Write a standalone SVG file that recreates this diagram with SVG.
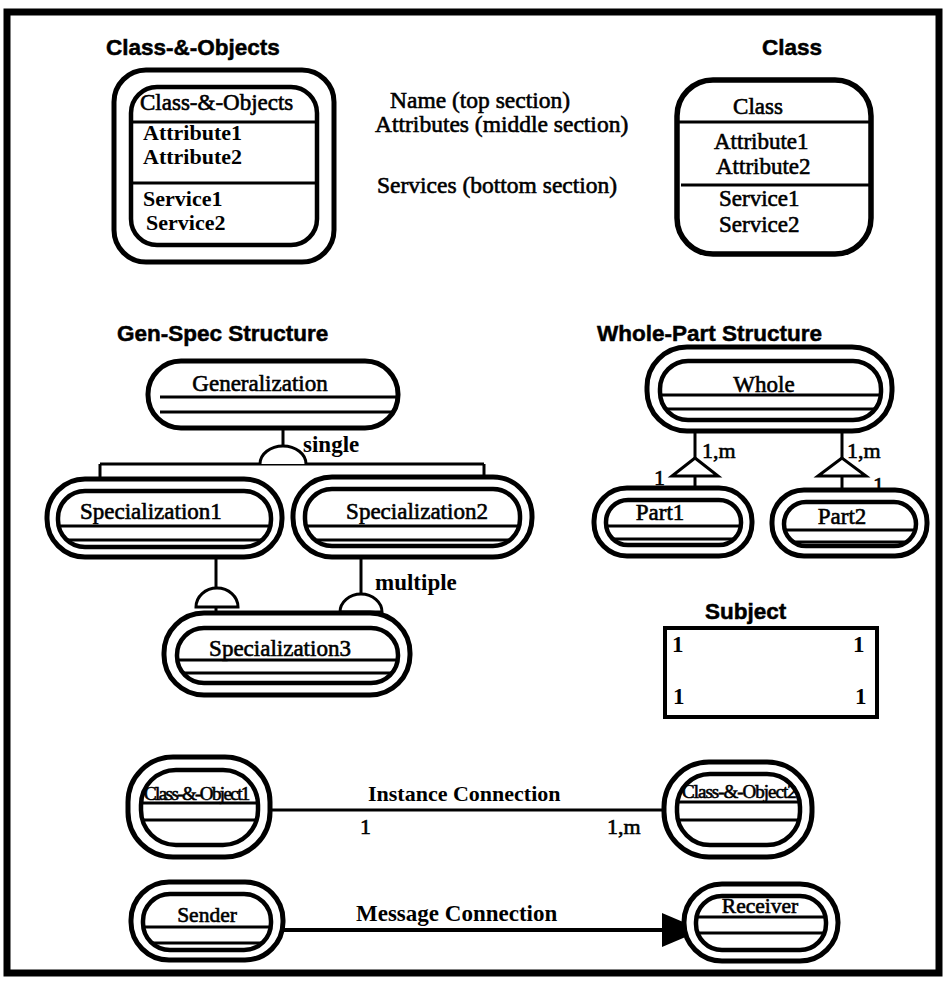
<svg xmlns="http://www.w3.org/2000/svg" width="946" height="982" viewBox="0 0 946 982">
<style>
.o{fill:#fff;stroke:#000;stroke-width:5}
.i{fill:none;stroke:#000;stroke-width:4.5}
.d{stroke:#000;stroke-width:3}
.c{fill:none;stroke:#000;stroke-width:3}
.ar{fill:#fff;stroke:#000;stroke-width:3}
.t{font-family:"Liberation Sans",Arial,sans-serif;font-weight:bold;font-size:22.5px;stroke:#000;stroke-width:0.5}
.n{font-family:"Liberation Serif","Times New Roman",serif;font-size:23px;stroke:#000;stroke-width:0.6}
.b{font-family:"Liberation Serif","Times New Roman",serif;font-weight:bold;font-size:23px}
.a{font-family:"Liberation Serif","Times New Roman",serif;font-weight:bold;font-size:22px}
.m{text-anchor:middle}
</style>
<defs>
<marker id="ah" markerUnits="userSpaceOnUse" markerWidth="40" markerHeight="34" viewBox="0 0 40 34" refX="38" refY="17" orient="auto"><path d="M0,0 L40,17 L0,34 z" fill="#000"/></marker>
</defs>
<rect x="0" y="0" width="946" height="982" fill="#fff"/>
<rect x="7" y="12" width="932" height="961" fill="none" stroke="#000" stroke-width="7"/>

<g id="titles">
<text class="t" x="106" y="55">Class-&amp;-Objects</text>
<text class="t" x="762" y="55">Class</text>
<text class="t" x="117" y="341">Gen-Spec Structure</text>
<text class="t" x="597" y="341">Whole-Part Structure</text>
<text class="t" x="705" y="619">Subject</text>
</g>

<g id="section-labels">
<text class="n" x="390" y="108" style="font-size:23.5px">Name (top section)</text>
<text class="n" x="375" y="132" style="font-size:23.5px">Attributes (middle section)</text>
<text class="n" x="377" y="193" style="font-size:23.5px">Services (bottom section)</text>
</g>

<g id="connectors">
<!-- gen-spec single -->
<line class="c" x1="283" y1="428" x2="283" y2="452"/>
<line class="c" x1="100" y1="464" x2="484" y2="464"/>
<line class="c" x1="100" y1="464" x2="100" y2="492"/>
<line class="c" x1="484" y1="464" x2="484" y2="489"/>
<path class="ar" d="M260,464 A23,18 0 0 1 306,464"/>
<text class="b" x="303" y="452">single</text>
<!-- gen-spec multiple -->
<line class="c" x1="216" y1="557" x2="216" y2="629"/>
<line class="c" x1="361" y1="557" x2="361" y2="629"/>
<path class="ar" d="M196,607 A21,19 0 0 1 238,607 Z"/>
<path class="ar" d="M340,612 A21,18 0 0 1 382,612 Z"/>
<text class="b" x="375" y="590">multiple</text>
<!-- whole-part -->
<line class="c" x1="695" y1="431" x2="695" y2="490"/>
<polygon class="ar" points="695,458 672,476 718,476"/>
<line class="c" x1="842" y1="431" x2="842" y2="491"/>
<polygon class="ar" points="842,458 818,476 866,476"/>
<text class="n" x="702" y="458" style="font-size:22px">1,m</text>
<text class="n" x="654" y="485" style="font-size:22px">1</text>
<text class="n" x="847" y="458" style="font-size:22px">1,m</text>
<text class="n" x="873" y="492" style="font-size:22px">1</text>
<!-- instance -->
<line class="c" x1="270" y1="810" x2="664" y2="810"/>
<text class="b" x="368" y="801" style="font-size:22px">Instance Connection</text>
<text class="n" x="360" y="834" style="font-size:22px">1</text>
<text class="n" x="607" y="834" style="font-size:22px">1,m</text>
<!-- message -->
<line x1="283" y1="930" x2="700" y2="930" stroke="#000" stroke-width="4" marker-end="url(#ah)"/>
<text class="b" x="356" y="921">Message Connection</text>
</g>

<g id="class-objects">
<rect class="o" x="114" y="70" width="220" height="192" rx="32"/>
<rect class="i" x="131" y="87" width="186" height="158" rx="26"/>
<line class="d" x1="131" y1="122" x2="317" y2="122"/>
<line class="d" x1="131" y1="183" x2="317" y2="183"/>
<text class="n" x="140" y="110">Class-&amp;-Objects</text>
<text class="a" x="143" y="140">Attribute1</text>
<text class="a" x="143" y="164">Attribute2</text>
<text class="a" x="143" y="206">Service1</text>
<text class="a" x="146" y="230">Service2</text>
</g>

<g id="class">
<rect class="o" x="677" y="80" width="194" height="174" rx="36" style="stroke-width:5.5"/>
<line class="d" x1="677" y1="122" x2="871" y2="122"/>
<line class="d" x1="681" y1="185" x2="871" y2="185"/>
<text class="n m" x="758" y="114">Class</text>
<text class="n" x="714" y="149">Attribute1</text>
<text class="n" x="716" y="174">Attribute2</text>
<text class="n" x="719" y="206">Service1</text>
<text class="n" x="719" y="232">Service2</text>
</g>

<g id="generalization">
<rect class="o" x="148" y="361" width="250" height="67" rx="33"/>
<line class="d" x1="160" y1="397" x2="397" y2="397"/>
<line class="d" x1="160" y1="412" x2="393" y2="412"/>
<text class="n m" x="260" y="391">Generalization</text>
</g>

<g id="specialization1">
<rect class="o" x="47" y="479" width="235" height="78" rx="38"/>
<rect class="i" x="58" y="491" width="213" height="56" rx="27"/>
<line class="d" x1="59" y1="526" x2="270" y2="526"/>
<line class="d" x1="68" y1="540" x2="261" y2="540"/>
<text class="n" x="80" y="519">Specialization1</text>
</g>

<g id="specialization2">
<rect class="o" x="293" y="477" width="239" height="80" rx="39"/>
<rect class="i" x="305" y="489" width="215" height="57" rx="27"/>
<line class="d" x1="306" y1="526" x2="519" y2="526"/>
<line class="d" x1="317" y1="540" x2="508" y2="540"/>
<text class="n m" x="417" y="519">Specialization2</text>
</g>

<g id="specialization3">
<rect class="o" x="164" y="613" width="246" height="82" rx="40"/>
<rect class="i" x="177" y="628" width="221" height="55" rx="27"/>
<line class="d" x1="177" y1="660" x2="398" y2="660"/>
<line class="d" x1="183" y1="673" x2="392" y2="673"/>
<text class="n m" x="280" y="656">Specialization3</text>
</g>

<g id="whole">
<rect class="o" x="647" y="347" width="245" height="84" rx="40"/>
<rect class="i" x="660" y="361" width="221" height="59" rx="28"/>
<line class="d" x1="660" y1="395" x2="881" y2="395"/>
<line class="d" x1="667" y1="409" x2="874" y2="409"/>
<text class="n m" x="764" y="392">Whole</text>
</g>

<g id="part1">
<rect class="o" x="594" y="488" width="158" height="68" rx="33"/>
<rect class="i" x="606" y="500" width="135" height="45" rx="22"/>
<line class="d" x1="606" y1="526" x2="741" y2="526"/>
<line class="d" x1="613" y1="539" x2="734" y2="539"/>
<text class="n m" x="660" y="520">Part1</text>
</g>

<g id="part2">
<rect class="o" x="772" y="490" width="155" height="66" rx="32"/>
<rect class="i" x="784" y="502" width="132" height="44" rx="22"/>
<line class="d" x1="785" y1="530" x2="915" y2="530"/>
<line class="d" x1="793" y1="542" x2="907" y2="542"/>
<text class="n m" x="842" y="524">Part2</text>
</g>

<g id="subject">
<rect x="665" y="628" width="212" height="89" fill="#fff" stroke="#000" stroke-width="4"/>
<text class="b" x="672" y="652">1</text>
<text class="b" x="853" y="652">1</text>
<text class="b" x="673" y="704">1</text>
<text class="b" x="855" y="704">1</text>
</g>

<g id="class-object1">
<rect class="o" x="128" y="757" width="142" height="100" rx="45"/>
<rect class="i" x="141" y="770" width="117" height="75" rx="35"/>
<line class="d" x1="141" y1="803" x2="258" y2="803"/>
<line class="d" x1="143" y1="820" x2="256" y2="820"/>
<text class="n" x="144" y="800" style="font-size:19px;letter-spacing:-1.6px">Class-&amp;-Object1</text>
</g>

<g id="class-object2">
<rect class="o" x="664" y="762" width="148" height="95" rx="45"/>
<rect class="i" x="677" y="774" width="123" height="71" rx="33"/>
<line class="d" x1="677" y1="802" x2="800" y2="802"/>
<line class="d" x1="678" y1="820" x2="799" y2="820"/>
<text class="n" x="682" y="798" style="font-size:19px;letter-spacing:-1px">Class-&amp;-Object2</text>
</g>

<g id="sender">
<rect class="o" x="131" y="882" width="152" height="78" rx="38"/>
<rect class="i" x="143" y="894" width="128" height="56" rx="27"/>
<line class="d" x1="144" y1="927" x2="270" y2="927"/>
<line class="d" x1="153" y1="943" x2="261" y2="943"/>
<text class="n m" x="207" y="922" style="font-size:21.5px">Sender</text>
</g>

<g id="receiver">
<rect class="o" x="684" y="884" width="154" height="77" rx="38"/>
<rect class="i" x="696" y="896" width="130" height="54" rx="26"/>
<line class="d" x1="697" y1="917" x2="825" y2="917"/>
<line class="d" x1="698" y1="933" x2="824" y2="933"/>
<text class="n m" x="760" y="913" style="font-size:21.5px">Receiver</text>
</g>
</svg>
